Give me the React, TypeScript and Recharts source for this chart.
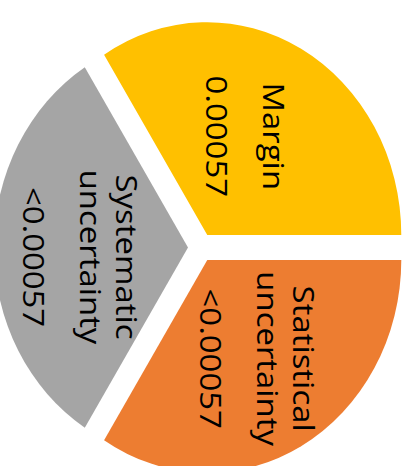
import React from 'react';
import { PieChart, Pie, Sector } from 'recharts';

// ---- data ----
const categories = ['Margin', 'Systematic uncertainty', 'Statistical uncertainty'];
const nameLines = [['Margin'], ['Systematic', 'uncertainty'], ['Statistical', 'uncertainty']];
const values = [0.00057, 0.00054, 0.00057];
const valueLabels = ['0.00057', '<0.00057', '<0.00057'];
const colors = ['#FFC000', '#A5A5A5', '#ED7D31'];

const data = categories.map((name, i) => ({ name, value: values[i] }));

// ---- layout / style ----
const W = 405;
const H_OUT = 466;
const STRETCH = 1.097;
const H = H_OUT / STRETCH;
const EXPLODE = 13;
const RADIAN = Math.PI / 180;
const FONT = 30;
const NAME_PITCH = 36;
const VALUE_GAP = 57;
const CAP = 21;
const LABEL_R = 0.53;
const LABEL_NUDGE = [
  [-12, 0],
  [-5, 8.7],
  [0, 0],
];

function renderSlice(props: any) {
  const { cx, cy, outerRadius, startAngle, endAngle, midAngle, index } = props;
  const c = Math.cos(midAngle * RADIAN);
  const s = Math.sin(midAngle * RADIAN);
  const ax = cx + EXPLODE * c;
  const ay = cy - EXPLODE * s;
  const lr = outerRadius * LABEL_R;
  const bx = ax + lr * c + LABEL_NUDGE[index][0];
  const by = ay - lr * s + LABEL_NUDGE[index][1];
  const n = nameLines[index].length;
  const lines = [...nameLines[index], valueLabels[index]];
  const offsets = lines.map((_, j) => (j < n ? VALUE_GAP + (n - 1 - j) * NAME_PITCH : 0));
  const center = (offsets[0] + CAP) / 2;
  return (
    <g key={`slice-${index}`}>
      <Sector
        cx={ax}
        cy={ay}
        innerRadius={0}
        outerRadius={outerRadius}
        startAngle={startAngle}
        endAngle={endAngle}
        fill={colors[index]}
        stroke="none"
      />
      {lines.map((t, j) => {
        const x = bx - center + offsets[j];
        return (
          <text
            key={j}
            x={x}
            y={by}
            transform={`rotate(90 ${x} ${by})`}
            textAnchor="middle"
            fontSize={FONT}
            fontFamily="'Open Sans', sans-serif"
            fill="#000"
          >
            {t}
          </text>
        );
      })}
    </g>
  );
}

export default function App() {
  return (
    <div
      style={{
        position: 'absolute',
        left: 0,
        top: 0,
        width: W,
        height: H_OUT,
        overflow: 'hidden',
        background: '#fff',
      }}
    >
      <div style={{ transform: `scaleY(${STRETCH})`, transformOrigin: '0 0', width: W, height: H }}>
        <PieChart width={W} height={H} margin={{ top: 0, right: 0, bottom: 0, left: 0 }}>
          <Pie
            data={data}
            dataKey="value"
            nameKey="name"
            cx={201}
            cy={225.6}
            outerRadius={194}
            startAngle={0}
            endAngle={360}
            fill="none"
            stroke="none"
            label={renderSlice}
            labelLine={false}
            isAnimationActive={false}
          />
        </PieChart>
      </div>
    </div>
  );
}
